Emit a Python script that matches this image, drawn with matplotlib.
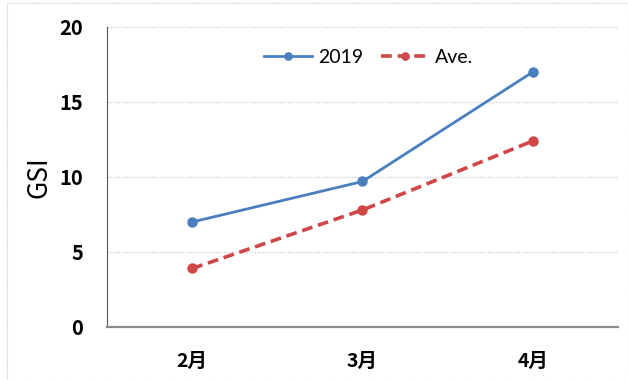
import matplotlib
matplotlib.use("Agg")
import matplotlib.pyplot as plt
from matplotlib.patches import Rectangle

plt.rcParams['font.family'] = ['Noto Sans CJK JP', 'DejaVu Sans']

months = ["2月", "3月", "4月"]
gsi_2019 = [7.0, 9.7, 17.0]
gsi_ave = [3.9, 7.8, 12.4]
y_ticks = [0, 5, 10, 15, 20]

blue = "#4a7ebf"
red = "#cf4747"

fig = plt.figure(figsize=(6.28, 3.8), dpi=100)
ax = fig.add_axes([0.1704, 0.1395, 0.8136, 0.7895])

x = list(range(len(months)))
ax.plot(x, gsi_2019, color=blue, lw=2.0, marker="o", ms=6.5, label="2019", zorder=3)
ax.plot(x, gsi_ave, color=red, lw=2.6, ls=(0, (3, 1.6)), marker="o", ms=6.5,
        label="Ave.", zorder=3)

ax.set_xlim(-0.5, 2.5)
ax.set_ylim(0, 20)
ax.set_xticks(x)
ax.set_xticklabels(months, fontsize=14, fontweight="bold")
ax.set_yticks(y_ticks)
ax.set_yticklabels([str(v) for v in y_ticks], fontsize=14.5, fontweight="bold")
ax.tick_params(axis="y", length=0, pad=17)
ax.tick_params(axis="x", length=0, pad=18)

ax.yaxis.grid(True, color="#cfcfcf", ls=(0, (1, 1)), lw=1.0)
ax.set_axisbelow(True)
for s in ["top", "right"]:
    ax.spines[s].set_visible(False)
ax.spines["left"].set_color("#555555")
ax.spines["bottom"].set_color("#8c8c8c")
ax.spines["bottom"].set_linewidth(1.6)

ax.set_ylabel("GSI", fontsize=19, labelpad=5)

leg = ax.legend(loc="center", bbox_to_anchor=(0.512, 0.898), ncol=2,
                frameon=False, prop={"family": "Lato", "size": 14},
                handlelength=2.5, columnspacing=0.9, handletextpad=0.3,
                markerscale=0.8)

fig.patches.append(Rectangle((0.011, 0.0), 0.989, 0.992, transform=fig.transFigure,
                             fill=False, ec="#c8c8c8", lw=0.8, ls=(0, (1, 1))))

fig.savefig("out.png", dpi=100)
